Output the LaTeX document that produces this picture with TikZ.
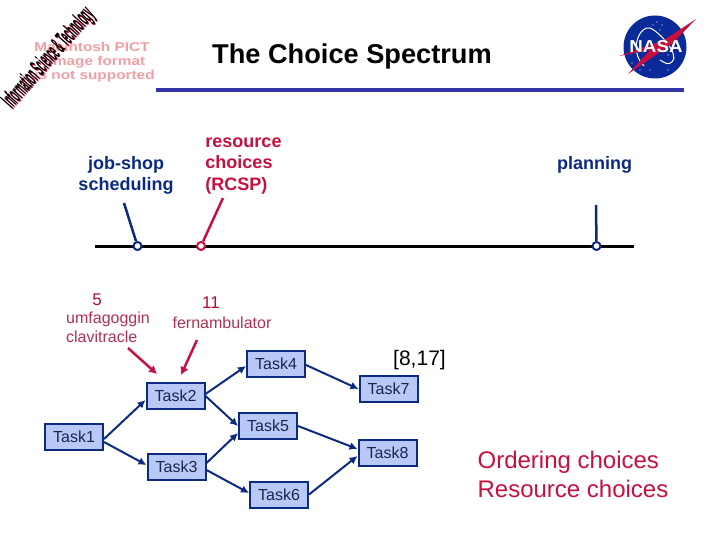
\documentclass[tikz,border=0pt]{standalone}
\usepackage{fontspec}
\usepackage{graphicx}
\setmainfont{Liberation Sans}
\definecolor{navy}{HTML}{0B2A80}
\definecolor{crim}{HTML}{C8103F}
\definecolor{dred}{HTML}{B01030}
\definecolor{softred}{HTML}{B0304F}
\definecolor{boxfill}{HTML}{B9C9F7}
\definecolor{rulec}{HTML}{3333AA}
\definecolor{pinkt}{HTML}{F0A0A4}
\definecolor{nasab}{HTML}{0A2A9A}
\definecolor{tasktxt}{HTML}{1A2450}
\usetikzlibrary{arrows.meta}
\tikzset{
 taskbox/.style={draw=navy,fill=boxfill,line width=2pt,minimum width=58pt,minimum height=26pt,inner sep=0pt,text=tasktxt,font=\fontsize{16}{16}\selectfont},
 flow/.style={draw=navy,line width=2pt,-{Latex[length=8pt,width=8pt]}},
 redarrow/.style={draw=crim,line width=2.5pt,-{Latex[length=8pt,width=9pt]}},
 stem/.style={line width=2.5pt},
 dot/.style={circle,draw,line width=2pt,minimum size=8pt,inner sep=0pt,fill=white},
 lab/.style={font=\fontsize{18}{21.5}\selectfont\bfseries,align=center,inner sep=0pt},
 plain/.style={inner sep=0pt,font=\fontsize{16}{18}\selectfont},
 pict/.style={inner sep=0pt,text=pinkt,font=\fontsize{12.8}{13}\selectfont\bfseries}
}
\begin{document}
\begin{tikzpicture}[x=1pt,y=-1pt]
\useasboundingbox (0,0) rectangle (720,540);
% PICT placeholder
\node[pict] (p1) at (92,47) {\scalebox{1.2}[1]{Macintosh PICT}};
\node[pict] (p2) at (97,62) {\scalebox{1.2}[1]{image format}};
\node[pict] (p3) at (94.5,76) {\scalebox{1.2}[1]{is not supported}};
% rotated badge
\node[inner sep=0pt,rotate=48.5,text=crim] (badge2) at (49.8,59.2) {\scalebox{0.45}[1.45]{\fontsize{17}{17}\selectfont\bfseries Information Science \& Technology}};
\node[inner sep=0pt,rotate=48.5,text=black] (badge) at (49,58.5) {\scalebox{0.45}[1.45]{\fontsize{17}{17}\selectfont\bfseries Information Science \& Technology}};
% title
\node[inner sep=0pt,font=\fontsize{27.2}{28}\selectfont\bfseries] (title) at (352,56.5) {The Choice Spectrum};
\fill[rulec] (156,88) rectangle (684,92);
% NASA logo
\fill[nasab] (655,47) circle (31.5);
\draw[white,line width=1pt] (644,66) .. controls (628,50) and (640,25) .. (650,28) .. controls (660,32) and (680,55) .. (672,62) .. controls (668,66) and (664,62) .. (660,60);
\fill[crim] (619,56) -- (664,40) -- (696,19) -- (672,44) -- (628,74) -- (650,50) -- cycle;
\node[inner sep=0pt,text=white,font=\fontsize{15}{15}\selectfont\bfseries] (nasa) at (656,47) {\scalebox{1.25}[1.15]{NASA}};
\foreach \a/\b in {657/22,662/25,653/25,660/30,668/55,674/58,632/63,640/70,650/70,668/70,678/70}
  \fill[white] (\a,\b) circle (0.7);
% spectrum
\coordinate (sl) at (95,246);
\coordinate (sr) at (634,246);
\coordinate (js) at (124,203);
\coordinate (rs) at (223,198);
\coordinate (pl) at (596,205);
\draw[black,line width=3pt] (sl) -- (sr);
\node[dot,draw=navy] (d1) at (137.5,246) {};
\node[dot,draw=crim] (d2) at (201,246) {};
\node[dot,draw=navy] (d3) at (596.5,246) {};
\draw[stem,navy] (js) -- (d1);
\draw[stem,crim] (rs) -- (d2);
\draw[stem,navy] (pl) -- (d3);
% labels
\node[lab,text=navy] (l1) at (126,175.5) {job-shop\\scheduling};
\node[lab,text=crim,align=left] (l2) at (243.5,166) {resource\\choices\\(RCSP)};
\node[lab,text=navy] (l3) at (594.5,165) {planning};
\node[plain,text=dred,font=\fontsize{17}{18}\selectfont] (n5) at (97,300) {5};
\node[plain,text=dred,font=\fontsize{17}{18}\selectfont] (n11) at (211,303) {11};
\node[plain,text=softred,align=left,font=\fontsize{16}{18.5}\selectfont] (u) at (108,327.5) {umfagoggin\\clavitracle};
\node[plain,text=softred,font=\fontsize{16}{18}\selectfont] (f) at (222,322.5) {fernambulator};
\node[inner sep=0pt,font=\fontsize{21}{24}\selectfont] (iv) at (419.5,360.5) {[8,17]};
\node[inner sep=0pt,text=crim,align=left,font=\fontsize{24}{29}\selectfont] (oc) at (573,474) {Ordering choices\\Resource choices};
% tasks
\node[taskbox] (T1) at (74,437) {Task1};
\node[taskbox] (T2) at (175.5,395.5) {Task2};
\node[taskbox] (T3) at (176.5,466.5) {Task3};
\node[taskbox] (T4) at (276,363.5) {Task4};
\node[taskbox] (T5) at (268,426) {Task5};
\node[taskbox] (T6) at (279,494.5) {Task6};
\node[taskbox] (T7) at (388.5,389) {Task7};
\node[taskbox] (T8) at (387.5,452.5) {Task8};
\draw[flow] (T1.east) ++(0,2) -- ([yshift=-4.5pt]T2.west);
\draw[flow] (T1.east) ++(0,5) -- ([yshift=1.5pt]T3.west);
\draw[flow] (T2.east) ++(0,-1.5) -- ([yshift=-2.5pt]T4.west);
\draw[flow] (T2.east) ++(0,0.5) -- (T5.west);
\draw[flow] (T3.east) ++(0,-3.5) -- ([yshift=-7pt]T5.west);
\draw[flow] (T3.east) ++(0,3.5) -- ([yshift=1.5pt]T6.west);
\draw[flow] (T4.east) ++(0,1.5) -- (T7.west);
\draw[flow] (T5.east) -- ([yshift=3.5pt]T8.west);
\draw[flow] (T6.east) -- ([yshift=-3.5pt]T8.west);
% red arrows
\coordinate (ra) at (128,348);
\coordinate (rb) at (197,340);
\coordinate (rat) at (157,374);
\coordinate (rbt) at (181,375);
\draw[redarrow] (ra) -- (rat);
\draw[redarrow] (rb) -- (rbt);
\end{tikzpicture}
\end{document}
